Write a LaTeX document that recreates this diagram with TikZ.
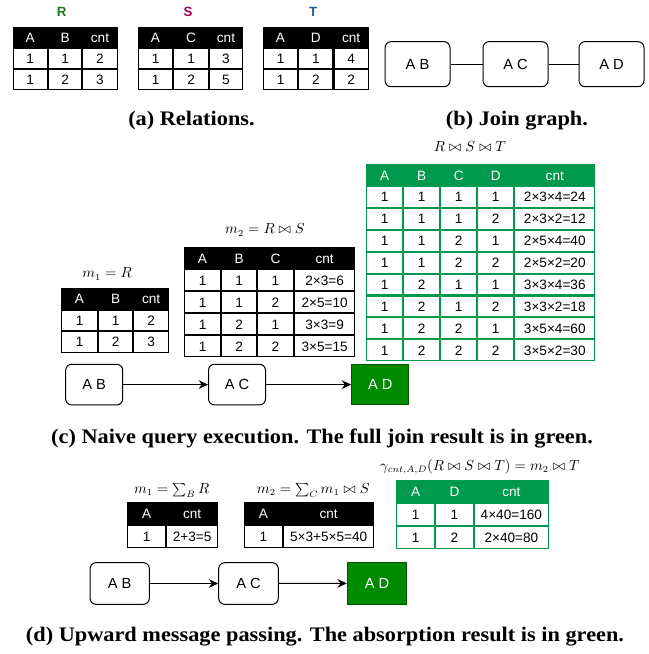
\documentclass[tikz,border=0pt]{standalone}
\usepackage[no-math]{fontspec}
\setmainfont{Liberation Serif}
\setsansfont{Liberation Sans}
\newfontfamily\capfont[FakeStretch=1.08]{Liberation Serif}
\usetikzlibrary{matrix,arrows.meta}

\definecolor{relR}{RGB}{34,119,34}
\definecolor{relS}{RGB}{158,0,93}
\definecolor{relT}{RGB}{30,90,160}
\definecolor{jgreen}{RGB}{0,153,77}
\definecolor{nodegreen}{RGB}{0,138,0}
\definecolor{nodegreenline}{RGB}{0,87,0}

\newdimen\pxu \pxu=0.75pt
\newcommand\tabfont{\sffamily\fontsize{10.2}{12}\selectfont}

\tikzset{
  cell/.style={draw=black, line width=0.8pt, inner sep=0pt, outer sep=0pt,
    anchor=center, font=\tabfont, text height=7.3pt, text depth=0pt},
  tbl/.style={matrix of nodes, anchor=north west, inner sep=0pt, outer sep=0pt,
    column sep=0pt, row sep=0pt, nodes={cell},
    row 1/.style={nodes={fill=black, text=white}}},
  gtbl/.style={tbl, nodes={draw=jgreen},
    row 1/.style={nodes={fill=jgreen, text=white}}},
  reltitle/.style={font=\sffamily\bfseries\fontsize{10}{12}\selectfont},
  mtitle/.style={font=\fontsize{10.5}{12}\selectfont, inner sep=0pt},
  caption/.style={font=\capfont\bfseries\fontsize{15.5}{18}\selectfont, inner sep=0pt},
  gbox/.style={draw=black, line width=0.75pt, rounded corners=4.5pt,
    font=\sffamily\fontsize{11}{13}\selectfont, inner sep=0pt},
  gboxhot/.style={gbox, rounded corners=0pt, fill=nodegreen,
    draw=nodegreenline, text=white},
  edge/.style={line width=0.75pt},
  arr/.style={line width=0.75pt, -{Stealth[length=7pt,width=6.5pt]}},
}

\begin{document}
\begin{tikzpicture}[x=0.75pt,y=-0.75pt]
\useasboundingbox (0,0) rectangle (649,654);

% ---------- (a) relations ----------
\node[reltitle, text=relR] (tR) at (61.7,11.7) {R};
\node[reltitle, text=relS] (tS) at (188,11.7) {S};
\node[reltitle, text=relT] (tT) at (313.3,11.7) {T};

\matrix (aR) [tbl, at={(12.7,26.7)}, nodes={minimum height=20\pxu},
  column 1/.style={nodes={minimum width=34\pxu}},
  column 2/.style={nodes={minimum width=33.5\pxu}},
  column 3/.style={nodes={minimum width=34.3\pxu}}] {
  A & B & cnt \\ 1 & 1 & 2 \\ 1 & 2 & 3 \\};
\matrix (aS) [tbl, at={(137.7,26.7)}, nodes={minimum height=20\pxu},
  column 1/.style={nodes={minimum width=34.6\pxu}},
  column 2/.style={nodes={minimum width=34.4\pxu}},
  column 3/.style={nodes={minimum width=33.3\pxu}}] {
  A & C & cnt \\ 1 & 1 & 3 \\ 1 & 2 & 5 \\};
\matrix (aT) [tbl, at={(262.7,26.7)}, nodes={minimum height=20\pxu},
  column 1/.style={nodes={minimum width=34.6\pxu}},
  column 2/.style={nodes={minimum width=34\pxu}},
  column 3/.style={nodes={minimum width=34.4\pxu}}] {
  A & D & cnt \\ 1 & 1 & 4 \\ 1 & 2 & 2 \\};

\node[caption] (capA) at (191.5,121) {(a) Relations.};

% ---------- (b) join graph ----------
\node[gbox, minimum width=65\pxu, minimum height=45\pxu] (bAB) at (417.5,64.2) {A B};
\node[gbox, minimum width=65\pxu, minimum height=45\pxu] (bAC) at (515.5,64.2) {A C};
\node[gbox, minimum width=65\pxu, minimum height=45\pxu] (bAD) at (611.5,64.2) {A D};
\draw[edge] (bAB) -- (bAC);
\draw[edge] (bAC) -- (bAD);

\node[caption] (capB) at (517,121) {(b) Join graph.};

% ---------- (c) naive execution ----------
\node[mtitle] (cm1t) at (107,274) {$m_1 = R$};
\matrix (cm1) [tbl, at={(61,288)}, nodes={minimum height=20.5\pxu},
  column 1/.style={nodes={minimum width=36\pxu}},
  column 2/.style={nodes={minimum width=34\pxu}},
  column 3/.style={nodes={minimum width=35\pxu}}] {
  A & B & cnt \\ 1 & 1 & 2 \\ 1 & 2 & 3 \\};

\node[mtitle] (cm2t) at (265,230) {$m_2 = R \bowtie S$};
\matrix (cm2) [tbl, at={(184,247.3)}, nodes={minimum height=20.9\pxu},
  column 1/.style={nodes={minimum width=36\pxu}},
  column 2/.style={nodes={minimum width=35\pxu}},
  column 3/.style={nodes={minimum width=35.7\pxu}},
  column 4/.style={nodes={minimum width=60.3\pxu}}] {
  A & B & C & cnt \\
  1 & 1 & 1 & 2×3=6 \\
  1 & 1 & 2 & 2×5=10 \\
  1 & 2 & 1 & 3×3=9 \\
  1 & 2 & 2 & 3×5=15 \\};

\node[mtitle] (cjt) at (470,146.7) {$R \bowtie S \bowtie T$};
\matrix (cj) [gtbl, at={(366,164.3)}, nodes={minimum height=20.8\pxu},
  column 1/.style={nodes={minimum width=36.3\pxu}},
  column 2/.style={nodes={minimum width=35.7\pxu}},
  column 3/.style={nodes={minimum width=36\pxu}},
  column 4/.style={nodes={minimum width=36\pxu}},
  column 5/.style={nodes={minimum width=80\pxu}}] {
  A & B & C & D & cnt \\
  1 & 1 & 1 & 1 & 2×3×4=24 \\
  1 & 1 & 1 & 2 & 2×3×2=12 \\
  1 & 1 & 2 & 1 & 2×5×4=40 \\
  1 & 1 & 2 & 2 & 2×5×2=20 \\
  1 & 2 & 1 & 1 & 3×3×4=36 \\
  1 & 2 & 1 & 2 & 3×3×2=18 \\
  1 & 2 & 2 & 1 & 3×5×4=60 \\
  1 & 2 & 2 & 2 & 3×5×2=30 \\};

\node[gbox, minimum width=57\pxu, minimum height=40.7\pxu] (cAB) at (94.2,384.6) {A B};
\node[gbox, minimum width=57\pxu, minimum height=40.7\pxu] (cAC) at (237,384.6) {A C};
\node[gboxhot, minimum width=57.3\pxu, minimum height=40.7\pxu] (cAD) at (380.3,384.6) {A D};
\draw[arr] (cAB) -- (cAC);
\draw[arr] (cAC) -- (cAD);

\node[caption] (capC) at (322,438) {(c) Naive query execution. The full join result is in green.};

% ---------- (d) upward message passing ----------
\node[mtitle] (dm1t) at (171.7,490) {$m_1 = \sum_B R$};
\matrix (dm1) [tbl, at={(127.3,501.7)}, nodes={minimum height=22.2\pxu},
  column 1/.style={nodes={minimum width=37.7\pxu}},
  column 2/.style={nodes={minimum width=51\pxu}}] {
  A & cnt \\ 1 & 2+3=5 \\};

\node[mtitle] (dm2t) at (313.3,490) {$m_2 = \sum_C m_1 \bowtie S$};
\matrix (dm2) [tbl, at={(244,501.7)}, nodes={minimum height=22.2\pxu},
  column 1/.style={nodes={minimum width=37.7\pxu}},
  column 2/.style={nodes={minimum width=90.6\pxu}}] {
  A & cnt \\ 1 & 5×3+5×5=40 \\};

\node[mtitle] (dgt) at (480,466.7) {$\gamma_{cnt,A,D}(R \bowtie S \bowtie T) = m_2 \bowtie T$};
\matrix (dg) [gtbl, at={(396,480)}, nodes={minimum height=21.9\pxu},
  column 1/.style={nodes={minimum width=38\pxu}},
  column 2/.style={nodes={minimum width=37.7\pxu}},
  column 3/.style={nodes={minimum width=74\pxu}}] {
  A & D & cnt \\ 1 & 1 & 4×40=160 \\ 1 & 2 & 2×40=80 \\};

\node[gbox, minimum width=59.3\pxu, minimum height=41.6\pxu] (dAB) at (119.7,583.5) {A B};
\node[gbox, minimum width=59.6\pxu, minimum height=41.6\pxu] (dAC) at (248.5,583.5) {A C};
\node[gboxhot, minimum width=59.4\pxu, minimum height=42\pxu] (dAD) at (377,583.3) {A D};
\draw[arr] (dAB) -- (dAC);
\draw[arr] (dAC) -- (dAD);

\node[caption] (capD) at (325,637) {(d) Upward message passing. The absorption result is in green.};
\end{tikzpicture}
\end{document}
